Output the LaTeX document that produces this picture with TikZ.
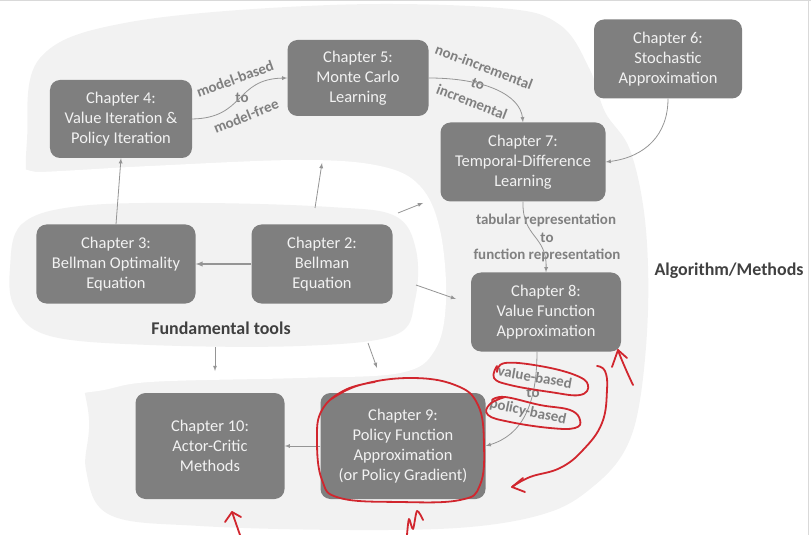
\documentclass[tikz,border=0pt]{standalone}
\usepackage{fontspec}
\setmainfont{Carlito}
\definecolor{boxgray}{HTML}{7F7F7F}
\definecolor{blobgray}{HTML}{F2F2F2}
\definecolor{linegray}{HTML}{959595}
\definecolor{labgray}{HTML}{808080}
\definecolor{headgray}{HTML}{404040}
\definecolor{penred}{HTML}{D1262E}
\begin{document}
\begin{tikzpicture}[>=latex,line join=bevel,x=1bp,y=-1bp,
  chap/.style={fill=boxgray,draw=none,rounded corners=10bp,text=white!95!black,align=center,inner sep=0pt,font=\fontsize{16.5}{20}\selectfont},
  edgelbl/.style={text=labgray,font=\bfseries\fontsize{15}{18}\selectfont,inner sep=0pt},
  regionlbl/.style={text=headgray,font=\bfseries\fontsize{18}{21}\selectfont},
  conn/.style={draw=linegray,line width=0.8bp,->},
  redpen/.style={draw=penred,line width=1.8bp,line cap=round,line join=round}]
\useasboundingbox (0,0) rectangle (811,535);
%% background regions
\fill [blobgray] plot[smooth cycle,tension=0.6] coordinates {(27,140) (40,58) (130,22) (330,5) (500,8) (560,25) (590,70) (605,112) (630,150) (645,220) (648,310) (640,400) (625,450) (595,485) (550,512) (470,527) (350,530) (200,526) (110,515) (86,470) (88,410) (60,300) (30,200)};
\fill [white] plot[smooth cycle,tension=0.6] coordinates {(-20,172) (40,172) (150,166) (300,160) (380,166) (420,186) (440,230) (446,300) (435,350) (400,373) (300,378) (150,382) (90,392) (-20,400)};
\fill [blobgray] plot[smooth cycle,tension=0.6] coordinates {(10,268) (22,224) (80,206) (200,203) (330,207) (395,216) (416,250) (415,300) (395,335) (300,346) (150,345) (50,336) (15,308)};
\draw [black!15] (0,0.5) -- (811,0.5);
\draw [black!15] (808.5,0) -- (808.5,535);
%% chapters
\node (ch4) at (121,119) [chap,minimum width=142bp,minimum height=78bp] {Chapter 4:\\Value Iteration \&\\Policy Iteration};
\node (ch5) at (358,78) [chap,minimum width=141bp,minimum height=76bp] {Chapter 5:\\Monte Carlo\\Learning};
\node (ch6) at (668,59) [chap,minimum width=148bp,minimum height=79bp] {Chapter 6:\\Stochastic\\Approximation};
\node (ch7) at (523,162) [chap,minimum width=165bp,minimum height=79bp] {Chapter 7:\\Temporal-Difference\\Learning};
\node (ch3) at (116,264) [chap,minimum width=159bp,minimum height=79bp] {Chapter 3:\\Bellman Optimality\\Equation};
\node (ch2) at (322,264) [chap,minimum width=141bp,minimum height=79bp] {Chapter 2:\\Bellman\\Equation};
\node (ch8) at (546,312) [chap,minimum width=150bp,minimum height=79bp] {Chapter 8:\\Value Function\\Approximation};
\node (ch10) at (210,446) [chap,minimum width=149bp,minimum height=106bp] {Chapter 10:\\Actor-Critic\\Methods};
\node (ch9) at (403,446) [chap,minimum width=165bp,minimum height=106bp] {Chapter 9:\\Policy Function\\Approximation\\(or Policy Gradient)};
\node (fundtitle) at (221,328) [regionlbl] {Fundamental tools};
\node (algtitle) at (729,271) [regionlbl] {Algorithm/Methods};
%% edge labels
\node (mb1) at (235,79) [edgelbl,rotate=20] {model-based};
\node (mb2) at (242,98) [edgelbl] {to};
\node (mb3) at (246,116) [edgelbl,rotate=22] {model-free};
\node (ni1) at (484,67) [edgelbl,rotate=-21] {non-incremental};
\node (ni2) at (478,84) [edgelbl,rotate=-21] {to};
\node (ni3) at (472,102) [edgelbl,rotate=-21] {incremental};
\node (tr1) at (546,220) [edgelbl] {tabular representation};
\node (tr2) at (547,238) [edgelbl] {to};
\node (tr3) at (547,255) [edgelbl] {function representation};
\node (vb1) at (535,377) [edgelbl,rotate=-10] {value-based};
\node (vb2) at (533,393) [edgelbl] {to};
\node (vb3) at (528,412) [edgelbl,rotate=-12] {policy-based};
%% connectors
\draw [conn] (ch3.north) -- (ch4.south);
\draw [conn,line width=1.4bp] (ch2.west) -- (ch3.east);
\draw [conn] (ch4.east) .. controls (245,118) and (235,79) .. (ch5.west);
\draw [conn] (ch5.east) .. controls (485,78) and (520,95) .. (ch7.north);
\draw [conn] (ch6.south) .. controls (668,135) and (645,157) .. (ch7.east);
\draw [conn] (ch7.south) .. controls (522,238) and (547,235) .. (ch8.north);
\draw [conn] ([xshift=-9bp]ch8.south) .. controls (537,405) and (522,435) .. (ch9.east);
\draw [conn] (ch9.west) -- (ch10.east);
%% from fundamental tools
\coordinate (f1s) at (315,208); \coordinate (f1e) at (322,163);
\coordinate (f2s) at (398,213); \coordinate (f2e) at (423,203);
\coordinate (f3s) at (416,285); \coordinate (f3e) at (456,299);
\coordinate (f4s) at (215,347); \coordinate (f4e) at (215,371);
\coordinate (f5s) at (368,343); \coordinate (f5e) at (377,368);
\draw [conn] (f1s) -- (f1e);
\draw [conn] (f2s) -- (f2e);
\draw [conn] (f3s) -- (f3e);
\draw [conn] (f4s) -- (f4e);
\draw [conn] (f5s) -- (f5e);
%% red pen marks
\draw [redpen] plot[smooth,tension=0.7] coordinates {(330,400) (360,385) (410,378) (455,385) (478,405) (484,445) (480,485) (460,500) (400,502) (340,498) (322,480) (317,440) (322,410) (345,390) (375,382)};
\draw [redpen] plot[smooth,tension=0.7] coordinates {(497,372) (505,363) (540,366) (575,375) (588,385) (580,395) (550,392) (510,385) (494,378) (497,366)};
\draw [redpen] plot[smooth,tension=0.7] coordinates {(505,397) (490,404) (488,415) (510,422) (550,428) (575,428) (580,420) (570,410) (540,405) (505,397) (492,400)};
\draw [redpen] plot[smooth,tension=0.7] coordinates {(597,366) (605,371) (607,390) (602,423) (583,450) (560,468) (530,477) (512,487)};
\draw [redpen] (523,478) -- (512,487) -- (525,492);
\draw [redpen] plot[smooth,tension=0.7] coordinates {(633,385) (627,372) (621,358) (618,350)};
\draw [redpen] (612,367) -- (618,350) -- (627,358);
\draw [redpen] (240,535) -- (232,512);
\draw [redpen] (225,522) -- (232,512) -- (241,517);
\draw [redpen] plot[smooth,tension=0.5] coordinates {(407,535) (409,519) (413,529) (417,511) (423,520)};
\end{tikzpicture}
\end{document}
